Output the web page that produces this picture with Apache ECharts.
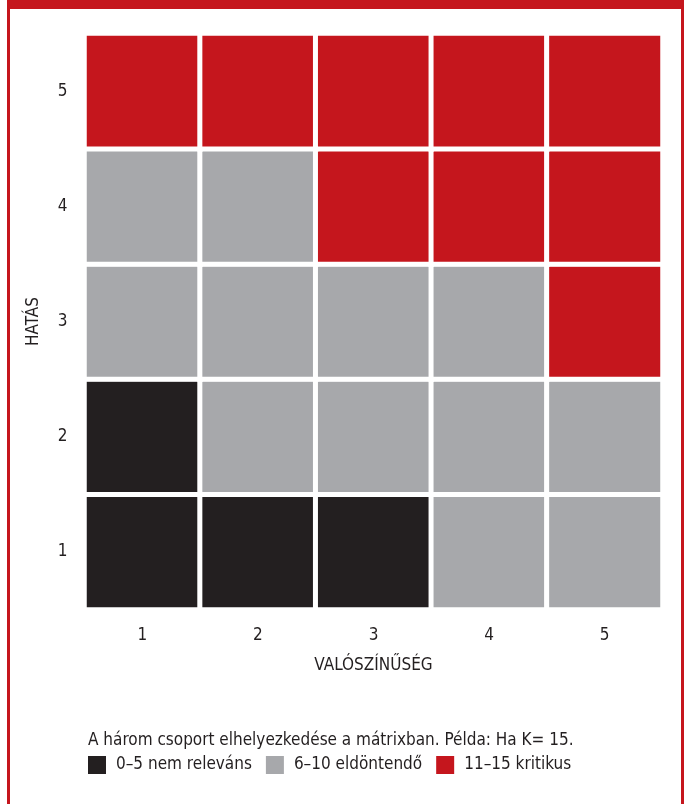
<!DOCTYPE html>
<html>
<head>
<meta charset="utf-8">
<script src="https://cdn.jsdelivr.net/npm/echarts@6/dist/echarts.min.js"></script>
<style>
  html, body { margin: 0; padding: 0; background: #fff; }
  #frame { position: absolute; left: 7px; top: 0; width: 671px; height: 804px;
           border-left: 3px solid #c5161d; border-right: 3px solid #c5161d; border-top: 9px solid #c5161d; }
  #main { position: absolute; left: 0; top: 0; width: 687px; height: 804px; }
</style>
</head>
<body>
<div id="frame"></div>
<div id="main"></div>
<script>
// valószínűség (x) és hatás (y) kategóriák
var xLabels = ['1', '2', '3', '4', '5'];
var yLabels = ['1', '2', '3', '4', '5'];
// csoport soronként (hatás 1..5), 0 = nem releváns, 1 = eldöntendő, 2 = kritikus
var impact1 = [0, 0, 0, 1, 1];
var impact2 = [0, 1, 1, 1, 1];
var impact3 = [1, 1, 1, 1, 2];
var impact4 = [1, 1, 2, 2, 2];
var impact5 = [2, 2, 2, 2, 2];
var groupLabels = ['0–5 nem releváns', '6–10 eldöntendő', '11–15 kritikus'];
var groupColors = ['#231f20', '#a7a8ab', '#c5161d'];

var rows = [impact1, impact2, impact3, impact4, impact5];
var data = [];
rows.forEach(function (row, y) {
  row.forEach(function (v, x) { data.push([x, y, v]); });
});

var font = '"DejaVu Sans Condensed", "Liberation Sans Narrow", sans-serif';
var chart = echarts.init(document.getElementById('main'));
chart.setOption({
  animation: false,
  textStyle: { fontFamily: font },
  title: {
    text: 'A három csoport elhelyezkedése a mátrixban. Példa: Ha K= 15.',
    left: 83, top: 727,
    textStyle: { fontFamily: font, fontSize: 17, fontWeight: 'normal', color: '#231f20' }
  },
  grid: { left: 84.5, right: 24.5, top: 33.5, bottom: 194.5 },
  xAxis: {
    type: 'category', data: xLabels,
    name: 'VALÓSZÍNŰSÉG', nameLocation: 'middle', nameGap: 48,
    nameTextStyle: { fontFamily: font, fontSize: 17, color: '#231f20' },
    axisLine: { show: false }, axisTick: { show: false }, splitLine: { show: false },
    axisLabel: { fontFamily: font, fontSize: 17, color: '#231f20', margin: 18 }
  },
  yAxis: {
    type: 'category', data: yLabels,
    name: 'HATÁS', nameLocation: 'middle', nameGap: 42,
    nameTextStyle: { fontFamily: font, fontSize: 17, color: '#231f20' },
    axisLine: { show: false }, axisTick: { show: false }, splitLine: { show: false },
    axisLabel: { fontFamily: font, fontSize: 17, color: '#231f20', margin: 17 }
  },
  visualMap: {
    type: 'piecewise', orient: 'horizontal', left: 73, top: 741,
    itemWidth: 18, itemHeight: 18, itemGap: 14, itemSymbol: 'rect', textGap: 10,
    textStyle: { fontFamily: font, fontSize: 17, color: '#231f20' },
    dimension: 2,
    pieces: [
      { value: 0, label: groupLabels[0], color: groupColors[0] },
      { value: 1, label: groupLabels[1], color: groupColors[1] },
      { value: 2, label: groupLabels[2], color: groupColors[2] }
    ],
    selectedMode: false
  },
  series: [{
    type: 'heatmap', data: data,
    itemStyle: { borderColor: '#fff', borderWidth: 5 },
    emphasis: { disabled: true }
  }]
});
</script>
</body>
</html>
